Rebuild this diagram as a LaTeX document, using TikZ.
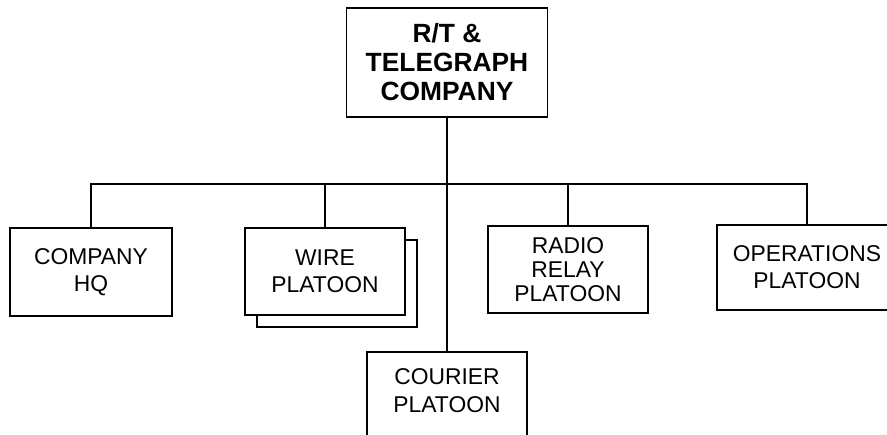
\documentclass[tikz,border=0pt]{standalone}
\usepackage{fontspec}
\setmainfont{Liberation Sans}
\usetikzlibrary{positioning}
\tikzset{%
  unittext/.style={align=center, inner sep=0pt, font=\fontsize{13}{15.5}\selectfont},
  unit/.style={unittext, draw, line width=1.1pt,
               minimum width=3.2cm, minimum height=1.74cm},
  topunit/.style={unit, font=\fontsize{15}{16.5}\selectfont\bfseries,
                  minimum width=4.02cm, minimum height=2.18cm},
  link/.style={line width=1.1pt},
}

\begin{document}
\begin{tikzpicture}[x=0.02cm, y=-0.02cm]
\useasboundingbox (0,0) rectangle (887,434);
\clip (0,0) rectangle (887,434);

% company box at the top
\node[topunit] (rt) at (447,62.5) {R/T \&\\TELEGRAPH\\COMPANY};

% platoons
\node[unit, minimum width=3.24cm, minimum height=1.76cm] (hq) at (91,272) {COMPANY\\HQ};
% second sheet behind the wire box
\node[unit, fill=white] (wireback) at (337,283.5) {};
\node[unit, fill=white] (wire) at (325,271.5) {WIRE\\PLATOON};
\node[unit, font=\fontsize{13}{13.8}\selectfont] (radio) at (568,269.5) {RADIO\\RELAY\\PLATOON};
\node[unit, minimum width=3.6cm, minimum height=1.7cm] (ops) at (807,267.5) {OPERATIONS\\PLATOON};
% courier box runs off the bottom edge
\node[unit, minimum height=2cm, anchor=north] (courier) at (447,351) {};
\node[unittext, font=\fontsize{13}{15.9}\selectfont] (couriertext) at (447,391) {COURIER\\PLATOON};

% bus line
\coordinate (bus) at (447,184);
\draw[link] (hq.north) |- (bus) -| (ops.north);
\draw[link] (wire.north) -- (wire.north |- bus);
\draw[link] (radio.north) -- (radio.north |- bus);
\draw[link] (rt.south) -- (courier.north);

\end{tikzpicture}
\end{document}
